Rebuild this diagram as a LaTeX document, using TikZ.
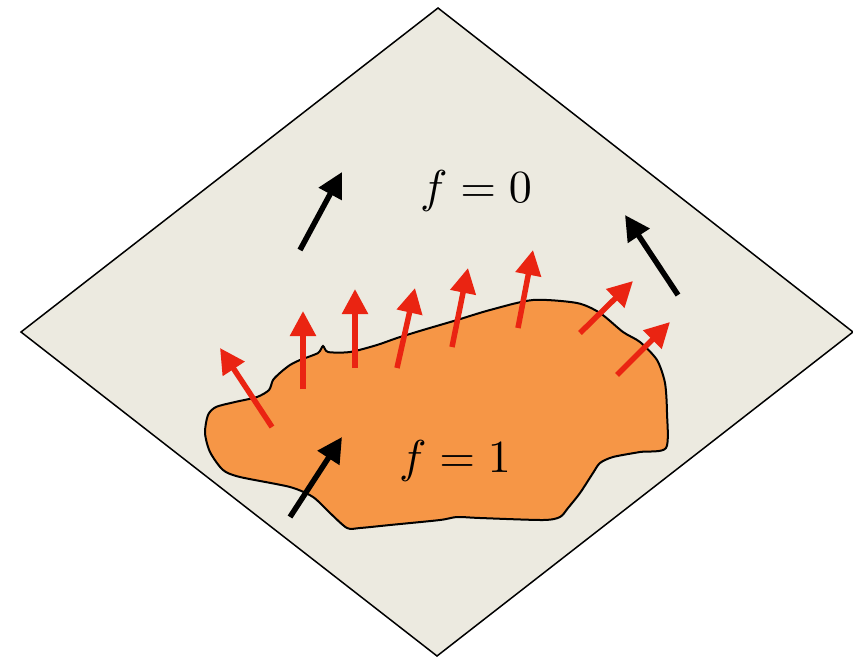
\documentclass[tikz,border=0pt]{standalone}
\usepackage{graphicx}
\usetikzlibrary{arrows.meta}
\definecolor{planefill}{RGB}{236,234,224}
\definecolor{blobfill}{RGB}{246,150,70}
\definecolor{vecred}{RGB}{234,36,18}
\begin{document}
\begin{tikzpicture}[x=1pt,y=-1pt,
  vec/.style={line width=5.5pt,-{Triangle[length=25pt,width=25pt]}},
  redvec/.style={vec,draw=vecred},
  blackvec/.style={vec,draw=black}]
\useasboundingbox (0,0) rectangle (853,656);
% plane
\coordinate (T) at (438,8);
\coordinate (R) at (853,332);
\coordinate (B) at (437,656);
\coordinate (L) at (21,332);
\draw[line width=1.5pt,fill=planefill,line join=miter] (T) -- (R) -- (B) -- (L) -- cycle;
% blob
\draw[line width=2pt,fill=blobfill] plot[smooth cycle,tension=0.45] coordinates {
(205,433) (208,415) (216,407) (235,402) (257,397) (269,390) (273,380) (281,372) (290,365) (300,360) (318,353) (323,346) (328,352) (350,352) (377,345) (397,338) (423,330) (457,320) (490,310) (533,300) (577,303) (600,313) (623,332) (640,342) (657,360) (665,383) (667,413) (666,448) (640,452) (613,457) (600,463) (593,473) (580,493) (568,508) (560,517) (543,520) (480,518) (457,517) (440,520) (390,525) (360,528) (347,528) (330,513) (313,497) (290,487) (240,477) (223,470) (210,452)};
% red vectors
\coordinate (r1a) at (272,427); \coordinate (r1b) at (220,348);
\coordinate (r2a) at (303,389); \coordinate (r2b) at (303,311);
\coordinate (r3a) at (355,368); \coordinate (r3b) at (355,289);
\coordinate (r4a) at (397,368); \coordinate (r4b) at (415,288);
\coordinate (r5a) at (452,347); \coordinate (r5b) at (468,268);
\coordinate (r6a) at (518,328); \coordinate (r6b) at (533,250);
\coordinate (r7a) at (580,333); \coordinate (r7b) at (633,281);
\coordinate (r8a) at (617,375); \coordinate (r8b) at (670,322);
\foreach \i in {1,...,8} \draw[redvec] (r\i a) -- (r\i b);
% black vectors
\coordinate (k1a) at (300,250); \coordinate (k1b) at (342,172);
\coordinate (k2a) at (678,295); \coordinate (k2b) at (625,215);
\coordinate (k3a) at (290,517); \coordinate (k3b) at (342,437);
\foreach \i in {1,2,3} \draw[blackvec] (k\i a) -- (k\i b);
% labels
\node (f0) at (476,191) {\scalebox{4.6}{$f=0$}};
\node (f1) at (455,461) {\scalebox{4.6}{$f=1$}};
\end{tikzpicture}
\end{document}
